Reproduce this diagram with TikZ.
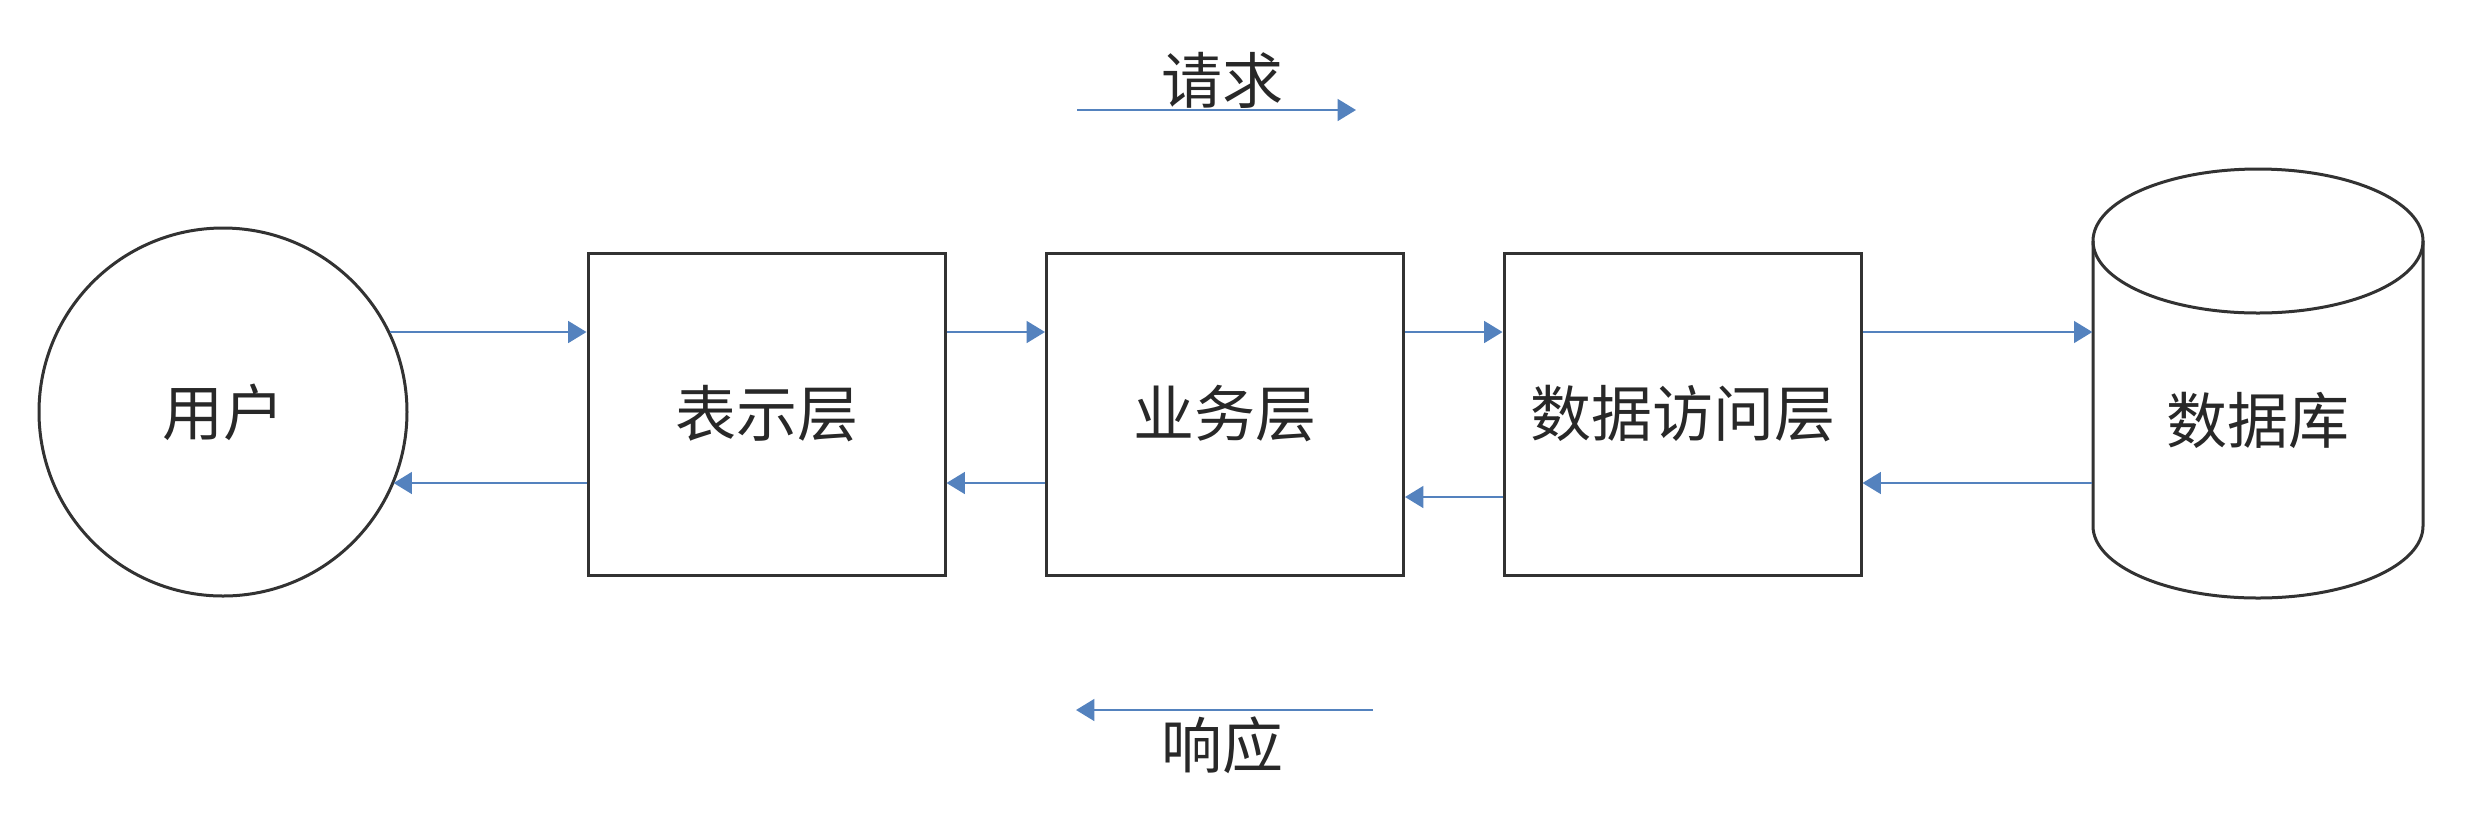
\documentclass[tikz,border=0pt]{standalone}
\usepackage{fontspec}
\newfontfamily\cjk{Noto Sans CJK SC}
\usetikzlibrary{arrows.meta}
\definecolor{arrblue}{RGB}{84,130,190}
\definecolor{txtgray}{RGB}{40,40,40}
\definecolor{linegray}{RGB}{50,50,50}
\begin{document}
\begin{tikzpicture}[x=0.3pt,y=0.3pt,
  lbl/.style={font=\cjk\fontsize{18.3}{22}\selectfont, text=txtgray, inner sep=0pt},
  layerbox/.style={draw=linegray, line width=0.9pt, minimum width=107.1pt, minimum height=96.6pt, fill=white},
  flow/.style={draw=arrblue, line width=0.75pt, -{Triangle[length=5.5pt,width=6.5pt]}},
  cylline/.style={draw=linegray, line width=0.9pt}]
\useasboundingbox[fill=white] (0,0) rectangle (2478,-816);

% nodes
\node[draw=linegray, line width=0.9pt, circle, minimum size=110.4pt, inner sep=0pt, outer sep=0pt, lbl] (user) at (223,-412) {用户};
\node[layerbox, lbl] (box1) at (766.5,-414) {表示层};
\node[layerbox, lbl] (box2) at (1225,-414) {业务层};
\node[layerbox, lbl] (box3) at (1682.5,-414) {数据访问层};

% database cylinder
\draw[cylline] (2093,-241) -- (2093,-526) arc[start angle=180, end angle=360, x radius=49.5pt, y radius=21.6pt] -- (2423,-241);
\draw[cylline] (2258,-241) ellipse [x radius=49.5pt, y radius=21.6pt];
\node[lbl, minimum width=99pt, minimum height=60pt] (db) at (2258,-420) {数据库};

% levels
\coordinate (up) at (0,-332);
\coordinate (dn) at (0,-483);
\coordinate (dn2) at (0,-497);

% forward arrows
\draw[flow] (user.25.8 |- up) -- (box1.west |- up);
\draw[flow] (box1.east |- up) -- (box2.west |- up);
\draw[flow] (box2.east |- up) -- (box3.west |- up);
\draw[flow] (box3.east |- up) -- (db.west |- up);

% backward arrows
\draw[flow] (db.west |- dn) -- (box3.east |- dn);
\draw[flow] (box3.west |- dn2) -- (box2.east |- dn2);
\draw[flow] (box2.west |- dn) -- (box1.east |- dn);
\draw[flow] (box1.west |- dn) -- (user.-22.7 |- dn);

% legend arrows
\coordinate (reqs) at (1077,-110);
\coordinate (reqe) at (1356,-110);
\draw[flow] (reqs) -- (reqe);
\node[lbl] (req) at (1222,-80) {请求};

\coordinate (ress) at (1373,-710);
\coordinate (rese) at (1076,-710);
\draw[flow] (ress) -- (rese);
\node[lbl] (res) at (1222,-745) {响应};
\end{tikzpicture}
\end{document}
